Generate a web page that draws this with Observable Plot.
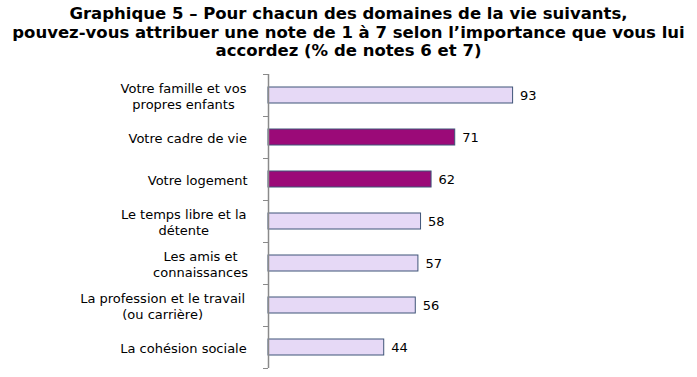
<!DOCTYPE html>
<html>
<head>
<meta charset="utf-8">
<script src="https://cdn.jsdelivr.net/npm/d3@7"></script>
<script src="https://cdn.jsdelivr.net/npm/@observablehq/plot@0.6"></script>
<style>
  body { margin: 0; background: #fff; width: 697px; height: 377px; overflow: hidden; }
  #title { font: bold 16.5px "DejaVu Sans", Verdana, sans-serif; text-align: center; line-height: 18.7px;
           padding-top: 5px; height: 57px; white-space: nowrap; color: #000; }
  #chart text.lab { letter-spacing: 0.4px; }
</style>
</head>
<body>
<div id="title">Graphique 5 – Pour chacun des domaines de la vie suivants,<br>pouvez-vous attribuer une note de 1 à 7 selon l’importance que vous lui<br>accordez (% de notes 6 et 7)</div>
<div id="chart"></div>
<script>
const categories = [
  "Votre famille et vos\npropres enfants",
  "Votre cadre de vie",
  "Votre logement",
  "Le temps libre et la\ndétente",
  "Les amis et\nconnaissances",
  "La profession et le travail\n(ou carrière)",
  "La cohésion sociale"
];
const values = [93, 71, 62, 58, 57, 56, 44];
const highlighted = [false, true, true, false, false, false, false];

const data = categories.map((c, i) => ({label: c, value: values[i], hi: highlighted[i]}));

const W = 697, H = 315, mT = 12, mB = 9, mL = 268, mR = 166;
const step = (H - mT - mB) / categories.length;
const fs = 13, ls = 0.4;
const ctx = document.createElement("canvas").getContext("2d");
ctx.font = fs + "px 'DejaVu Sans'";
const gap = 18;

const labelMarks = data.map(d => {
  const w = Math.max(...d.label.split("\n").map(s => ctx.measureText(s).width + ls * s.length));
  return Plot.text([d], {
    y: "label", text: "label", frameAnchor: "left", textAnchor: "middle",
    dx: -(gap + w / 2), lineHeight: 1.25, fill: "#000", fontSize: fs,
    className: "lab"
  });
});

const chart = Plot.plot({
  width: W, height: H,
  marginTop: mT, marginBottom: mB, marginLeft: mL, marginRight: mR,
  style: {fontFamily: "'DejaVu Sans', Verdana, sans-serif", fontSize: "12px", background: "#fff"},
  x: {domain: [0, 100], axis: null},
  y: {domain: categories, paddingInner: 0.62, paddingOuter: 0.31, axis: null},
  marks: [
    Plot.barX(data, {
      x: "value", y: "label",
      fill: d => d.hi ? "#9b0a78" : "#e6d9f6",
      stroke: "#3f5578", strokeWidth: 1
    }),
    Plot.ruleX([0], {stroke: "#8a8a8a", strokeWidth: 1.5}),
    Plot.axisY({tickSize: 5, tickFormat: null, dy: -step / 2, stroke: "#8a8a8a", label: null}),
    Plot.axisY([categories[categories.length - 1]], {tickSize: 5, tickFormat: null, dy: step / 2, stroke: "#8a8a8a", label: null}),
    Plot.text(data, {x: "value", y: "label", text: d => String(d.value), dx: 7, textAnchor: "start", fill: "#000", fontSize: 13, className: "lab"}),
    ...labelMarks
  ]
});
document.getElementById("chart").appendChild(chart);
</script>
</body>
</html>
